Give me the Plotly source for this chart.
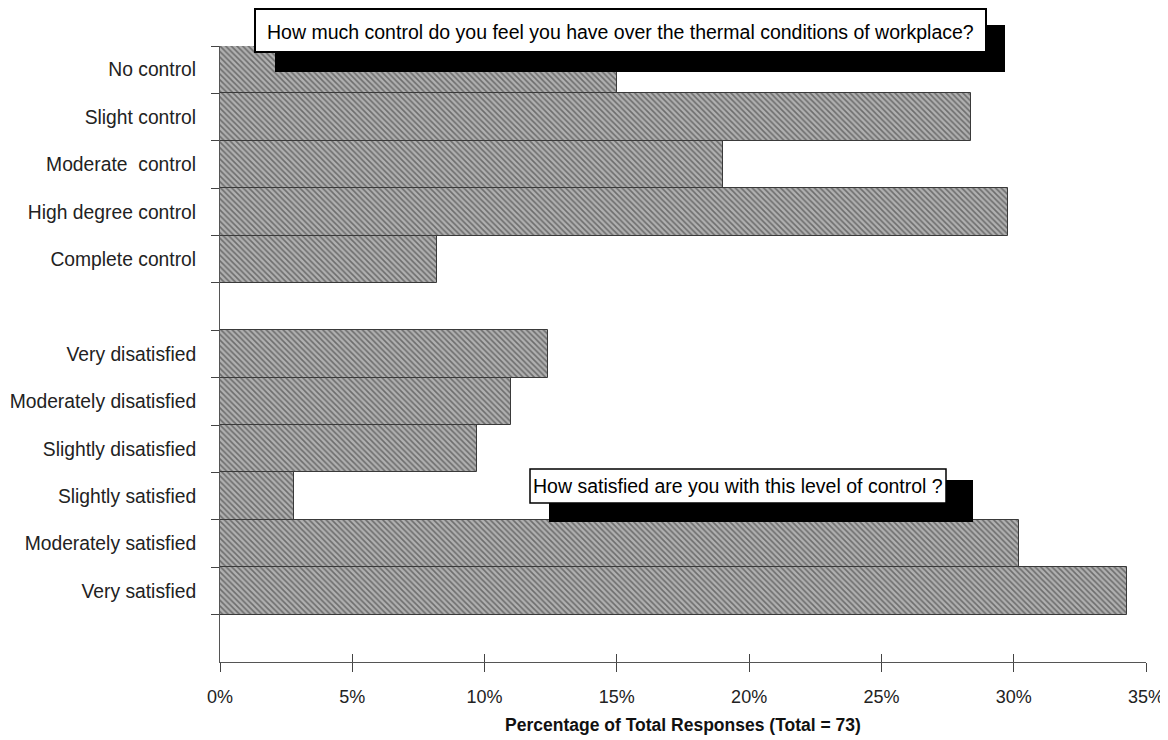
import plotly.graph_objects as go

control_labels = ["No control", "Slight control", "Moderate  control",
                  "High degree control", "Complete control"]
control_values = [15.0, 28.4, 19.0, 29.8, 8.2]

satisfaction_labels = ["Very disatisfied", "Moderately disatisfied",
                       "Slightly disatisfied", "Slightly satisfied",
                       "Moderately satisfied", "Very satisfied"]
satisfaction_values = [12.4, 11.0, 9.7, 2.8, 30.2, 34.3]

x_tick_values = [0, 5, 10, 15, 20, 25, 30, 35]
x_tick_labels = ["0%", "5%", "10%", "15%", "20%", "25%", "30%", "35%"]

question_control = "How much control do you feel you have over the thermal conditions of workplace?"
question_satisfaction = "How satisfied are you with this level of control ?"
x_title = "<b>Percentage of Total Responses (Total = 73)</b>"

spacer_a = " "
spacer_b = "  "
categories = control_labels + [spacer_a] + satisfaction_labels + [spacer_b]
values = control_values + [None] + satisfaction_values + [None]

FONT = "Liberation Sans, Arial, sans-serif"

fig = go.Figure()
fig.add_trace(go.Bar(
    x=values, y=categories, orientation="h",
    marker=dict(
        color="#a8a8a8",
        pattern=dict(shape="\\", fgcolor="#2a2a2a", bgcolor="#b0b0b0",
                     size=4, solidity=0.4),
        line=dict(color="#3a3a3a", width=1),
    ),
    showlegend=False, hoverinfo="skip",
))
# invisible helper trace so the overlaid axis (upper half of crossing x ticks) is drawn
fig.add_trace(go.Scatter(x=[0, 35], y=[spacer_b, spacer_b], xaxis="x2", mode="markers",
                         marker=dict(opacity=0), showlegend=False, hoverinfo="skip"))

# page is offset by the default 8px body margin
OFF = 8
W, H = 1168 - OFF, 740 - OFF
L, R, T, B = 220 - OFF, 22, 46 - OFF, 78
pw, ph = W - L - R, H - T - B


def px(x):
    return (x - OFF - L) / pw


def py(y):
    return (H - B - (y - OFF)) / ph


shapes = []
annotations = []
# annotation box 1
shapes.append(dict(type="rect", xref="paper", yref="paper",
                   x0=px(275), x1=px(1005), y0=py(72), y1=py(25),
                   fillcolor="black", line=dict(width=0), layer="above"))
shapes.append(dict(type="rect", xref="paper", yref="paper",
                   x0=px(255), x1=px(986), y0=py(52), y1=py(9),
                   fillcolor="white", line=dict(color="black", width=2), layer="above"))
annotations.append(dict(xref="paper", yref="paper", x=px(620), y=py(32),
                        text=question_control, showarrow=False,
                        xanchor="center", yanchor="middle",
                        font=dict(family=FONT, size=19.5, color="black")))
# annotation box 2
shapes.append(dict(type="rect", xref="paper", yref="paper",
                   x0=px(549), x1=px(973), y0=py(522), y1=py(480),
                   fillcolor="black", line=dict(width=0), layer="above"))
shapes.append(dict(type="rect", xref="paper", yref="paper",
                   x0=px(530), x1=px(946), y0=py(503), y1=py(469),
                   fillcolor="white", line=dict(color="black", width=1.5), layer="above"))
annotations.append(dict(xref="paper", yref="paper", x=px(738), y=py(486),
                        text=question_satisfaction, showarrow=False,
                        xanchor="center", yanchor="middle",
                        font=dict(family=FONT, size=19.5, color="black")))

fig.update_layout(
    width=W, height=H,
    margin=dict(l=L, r=R, t=T, b=B, pad=0),
    paper_bgcolor="white", plot_bgcolor="white",
    bargap=0,
    font=dict(family=FONT, size=18, color="#222"),
    shapes=shapes, annotations=annotations,
    xaxis=dict(
        range=[0, 35], tickvals=x_tick_values, ticktext=x_tick_labels,
        ticks="outside", ticklen=9, tickcolor="#444", showline=True,
        linecolor="#555", linewidth=1, showgrid=False, zeroline=False,
        automargin=False, ticklabelstandoff=9,
        tickfont=dict(family=FONT, size=18, color="#222"),
        title=dict(text=x_title, font=dict(family=FONT, size=17.5, color="#111"), standoff=13),
    ),
    xaxis2=dict(
        range=[0, 35], tickvals=x_tick_values, overlaying="x", anchor="y", side="bottom",
        ticks="inside", ticklen=8, tickcolor="#444", showticklabels=False,
        showline=False, showgrid=False, zeroline=False, automargin=False,
    ),
    yaxis=dict(
        type="category", categoryorder="array", categoryarray=categories,
        range=[len(categories) - 0.5, -0.5], tickson="boundaries",
        ticks="outside", ticklen=8, tickcolor="#444", showline=True,
        linecolor="#555", linewidth=1, showgrid=False, zeroline=False,
        automargin=False,
        tickfont=dict(family=FONT, size=19.3, color="#222"),
        ticklabelstandoff=19,
    ),
)

fig.write_html("out.html")
